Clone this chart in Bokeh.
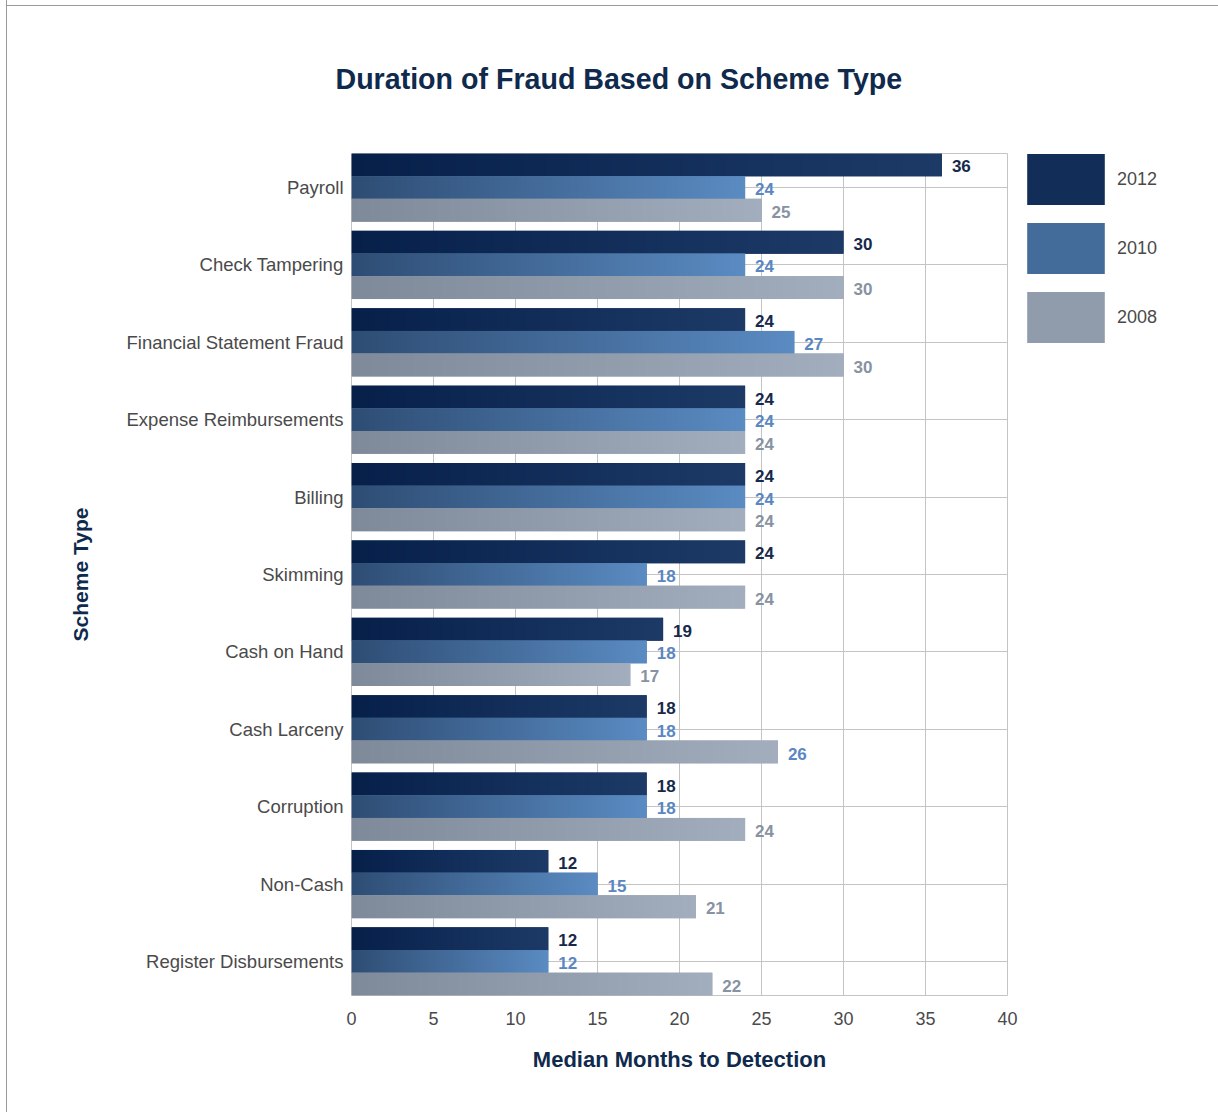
import numpy as np
from bokeh.plotting import figure
from bokeh.models import (ColumnDataSource, FactorRange, Legend, LegendItem,
                          FixedTicker, Range1d)
from bokeh.transform import dodge
from bokeh.core.properties import value
from bokeh.embed import file_html
from bokeh.resources import INLINE

# ---------------- data ----------------
categories = ["Payroll", "Check Tampering", "Financial Statement Fraud",
              "Expense Reimbursements", "Billing", "Skimming", "Cash on Hand",
              "Cash Larceny", "Corruption", "Non-Cash", "Register Disbursements"]
years = ["2012", "2010", "2008"]
v2012 = [36, 30, 24, 24, 24, 24, 19, 18, 18, 12, 12]
v2010 = [24, 24, 27, 24, 24, 18, 18, 18, 18, 15, 12]
v2008 = [25, 30, 30, 24, 24, 24, 17, 26, 24, 21, 22]
x_ticks = [0, 5, 10, 15, 20, 25, 30, 35, 40]

# ---------------- styles ----------------
NAVY = "#0f2a4c"
grad = {
    "2012": ("#06204a", "#1d3a67"),
    "2010": ("#2e4d74", "#5a8bc2"),
    "2008": ("#7e8a99", "#a2aebe"),
}
label_col = {"2012": "#17294a", "2010": "#5a87c1", "2008": "#8792a2"}
offsets = {"2012": 0.293, "2010": 0.0, "2008": -0.293}
BAR_H = 0.295
FONT = "Liberation Sans"
FRAME_W, FRAME_H = 656, 842

p = figure(frame_width=FRAME_W, frame_height=FRAME_H,
           output_backend="svg", toolbar_location=None,
           y_range=FactorRange(factors=categories[::-1]),
           x_range=Range1d(0, 40),
           min_border_left=344, min_border_right=211, min_border_top=153,
           min_border_bottom=117)
p.y_range.range_padding = -0.06
p.y_range.range_padding_units = "absolute"
p.styles = {
    "margin-left": "6px",
    "border-left": "1px solid #9a9a9a",
    "background": "linear-gradient(#9a9a9a, #9a9a9a) 0 5px / 100% 1px no-repeat, #ffffff",
}

p.title.text = "Duration of Fraud Based on Scheme Type"
p.title.text_font = FONT
p.title.text_font_size = "28.6px"
p.title.text_font_style = "bold"
p.title.text_color = NAVY
p.title.align = "left"
p.title.offset = -16
p.title.standoff = 118


def hex2rgb(h):
    h = h.lstrip("#")
    return np.array([int(h[i:i + 2], 16) for i in (0, 2, 4)], dtype=float)


def gradient_image(c0, c1, n=256):
    f = np.linspace(0.0, 1.0, n)[:, None]
    rgb = np.round(c0 + (c1 - c0) * f).astype(np.uint32)
    img = (255 << 24) | (rgb[:, 2] << 16) | (rgb[:, 1] << 8) | rgb[:, 0]
    return img.reshape(1, n).astype(np.uint32)


series = {"2012": v2012, "2010": v2010, "2008": v2008}
legend_items = []
for yr in years:
    vals = np.array(series[yr], dtype=float)
    c0, c1 = hex2rgb(grad[yr][0]), hex2rgb(grad[yr][1])
    mid = "#%02x%02x%02x" % tuple(int(round(c)) for c in (c0 + c1) / 2)
    # solid underlay bar (also used for the legend swatch)
    base = p.hbar(y=dodge("cat", offsets[yr], range=p.y_range), left=0, right="v",
                  height=BAR_H, fill_color=mid, line_color=None,
                  source=ColumnDataSource(dict(cat=categories, v=vals)))
    # gradient fill stretched over each bar
    img = gradient_image(c0, c1)
    isrc = ColumnDataSource(dict(image=[img] * len(categories), cat=categories,
                                 x=[0] * len(categories), v=vals))
    p.image_rgba(image="image", x="x",
                 y=dodge("cat", offsets[yr] - BAR_H / 2, range=p.y_range),
                 dw="v", dh=BAR_H, source=isrc)
    legend_items.append(LegendItem(label=yr, renderers=[base]))

    # value labels
    lcols = [label_col[yr]] * len(categories)
    if yr == "2008":
        lcols[categories.index("Cash Larceny")] = label_col["2010"]
    lsrc = ColumnDataSource(dict(cat=categories, x=vals,
                                 t=[str(int(v)) for v in vals], c=lcols))
    p.text(x="x", y=dodge("cat", offsets[yr] - 0.02, range=p.y_range), text="t",
           source=lsrc, x_offset=10, text_baseline="middle", text_align="left",
           text_font=value(FONT), text_font_style="bold", text_font_size="17px",
           text_color="c")

legend = Legend(items=legend_items, location=(10, FRAME_H - 196))
legend.glyph_width = 97
legend.glyph_height = 64
legend.spacing = 5
legend.label_standoff = 3
legend.label_text_font = FONT
legend.label_text_font_size = "18px"
legend.label_text_color = "#4a4a4a"
legend.label_text_baseline = "middle"
legend.padding = 0
legend.margin = 0
legend.border_line_color = None
legend.background_fill_alpha = 0
p.add_layout(legend, "right")

# axes
p.xaxis.ticker = FixedTicker(ticks=x_ticks)
p.xaxis.axis_line_color = None
p.xaxis.major_tick_line_color = None
p.xaxis.major_tick_out = 0
p.xaxis.minor_tick_line_color = None
p.xaxis.major_label_text_font = FONT
p.xaxis.major_label_text_font_size = "18px"
p.xaxis.major_label_text_color = "#4a4a4a"
p.xaxis.major_label_standoff = 16
p.xaxis.axis_label = "Median Months to Detection"
p.xaxis.axis_label_text_font = FONT
p.xaxis.axis_label_text_font_size = "22px"
p.xaxis.axis_label_text_font_style = "bold"
p.xaxis.axis_label_text_color = NAVY
p.xaxis.axis_label_standoff = 19

p.yaxis.axis_line_color = None
p.yaxis.major_tick_line_color = None
p.yaxis.major_tick_out = 0
p.yaxis.minor_tick_line_color = None
p.yaxis.major_label_text_font = FONT
p.yaxis.major_label_text_font_size = "18.5px"
p.yaxis.major_label_text_color = "#4a4a4a"
p.yaxis.major_label_standoff = 8
p.yaxis.axis_label = "Scheme Type"
p.yaxis.axis_label_text_font = FONT
p.yaxis.axis_label_text_font_size = "21px"
p.yaxis.axis_label_text_font_style = "bold"
p.yaxis.axis_label_text_color = NAVY
p.yaxis.axis_label_standoff = 32

p.xgrid.grid_line_color = "#c4c4c4"
p.ygrid.grid_line_color = "#c4c4c4"
p.outline_line_color = "#c4c4c4"
p.background_fill_color = "white"
p.border_fill_alpha = 0

open("out.html", "w").write(file_html(p, INLINE))
